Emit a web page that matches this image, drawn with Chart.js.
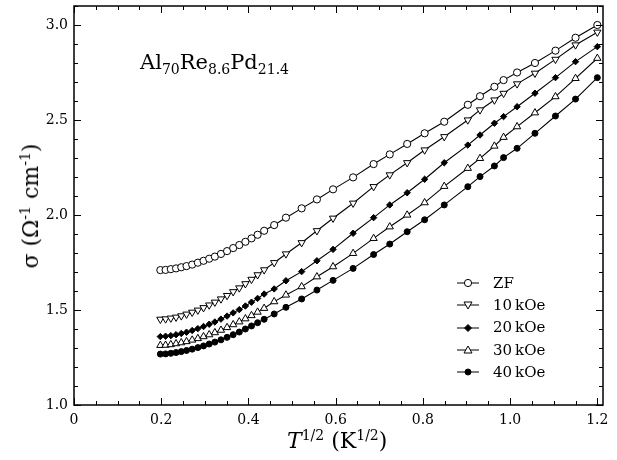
<!DOCTYPE html>
<html>
<head>
<meta charset="utf-8">
<script src="https://cdn.jsdelivr.net/npm/chart.js@4.4.0/dist/chart.umd.min.js"></script>
<style>
body { margin: 0; background: #fff; }
#wrap { position: relative; width: 617px; height: 460px; font-family: "DejaVu Serif", serif; color: #000; }
canvas { position: absolute; left: 0; top: 0; }
.txt { position: absolute; white-space: nowrap; line-height: 1; }
.sub { font-size: 14px; position: relative; top: 5px; }
.sup { font-size: 14px; position: relative; top: -8px; }
#alloy { left: 140px; top: 52px; font-size: 21px; }
#xtitle { left: 287px; top: 430px; font-size: 22px; }
#ytitle { left: 31px; top: 206px; font-size: 22px; transform: translate(-50%, -50%) rotate(-90deg); }
#legend { left: 457px; top: 272px; font-size: 15px; }
#legend div { height: 22.3px; display: flex; align-items: center; }
#legend svg { margin-right: 14px; }
</style>
</head>
<body>
<div id="wrap">
  <canvas id="chart" width="617" height="460"></canvas>
  <div class="txt" id="alloy">Al<span class="sub">70</span>Re<span class="sub">8.6</span>Pd<span class="sub">21.4</span></div>
  <div class="txt" id="xtitle"><i>T</i><span class="sup">1/2</span> (K<span class="sup">1/2</span>)</div>
  <div class="txt" id="ytitle">σ (Ω<span class="sup">-1</span> cm<span class="sup">-1</span>)</div>
  <div class="txt" id="legend"></div>
</div>
<script>
// T^1/2 (K^1/2)
const tHalf = [0.198, 0.210, 0.222, 0.234, 0.246, 0.258, 0.271, 0.284, 0.297, 0.310,
    0.323, 0.337, 0.351, 0.365, 0.379, 0.393, 0.407, 0.421, 0.436, 0.459,
    0.486, 0.522, 0.557, 0.594, 0.640, 0.687, 0.724, 0.764, 0.804, 0.849,
    0.903, 0.931, 0.964, 0.985, 1.016, 1.057, 1.104, 1.150, 1.200];

// conductivite (Ohm^-1 cm^-1)
const sigmaZF = [1.710, 1.711, 1.715, 1.719, 1.725, 1.731, 1.739, 1.749, 1.759, 1.770,
    1.781, 1.795, 1.810, 1.826, 1.842, 1.859, 1.877, 1.896, 1.917, 1.947,
    1.986, 2.035, 2.082, 2.135, 2.198, 2.268, 2.319, 2.374, 2.430, 2.491,
    2.580, 2.625, 2.675, 2.710, 2.750, 2.800, 2.865, 2.933, 3.000];
const sigma10 = [1.451, 1.453, 1.457, 1.462, 1.469, 1.478, 1.488, 1.499, 1.512, 1.526,
    1.541, 1.558, 1.576, 1.596, 1.616, 1.638, 1.661, 1.685, 1.711, 1.749,
    1.795, 1.854, 1.917, 1.983, 2.062, 2.149, 2.211, 2.275, 2.342, 2.412,
    2.500, 2.553, 2.605, 2.640, 2.690, 2.746, 2.819, 2.895, 2.962];
const sigma20 = [1.360, 1.362, 1.365, 1.370, 1.376, 1.383, 1.392, 1.402, 1.413, 1.425,
    1.437, 1.452, 1.468, 1.485, 1.502, 1.521, 1.541, 1.561, 1.584, 1.611,
    1.654, 1.702, 1.759, 1.819, 1.904, 1.986, 2.053, 2.117, 2.188, 2.275,
    2.368, 2.421, 2.483, 2.518, 2.570, 2.641, 2.723, 2.807, 2.886];
const sigma30 = [1.314, 1.315, 1.318, 1.323, 1.328, 1.334, 1.342, 1.350, 1.360, 1.370,
    1.381, 1.394, 1.408, 1.423, 1.438, 1.454, 1.471, 1.489, 1.509, 1.544,
    1.579, 1.623, 1.675, 1.728, 1.798, 1.877, 1.938, 2.000, 2.065, 2.151,
    2.246, 2.298, 2.363, 2.409, 2.465, 2.538, 2.623, 2.719, 2.825];
const sigma40 = [1.268, 1.269, 1.272, 1.276, 1.281, 1.287, 1.294, 1.302, 1.311, 1.321,
    1.331, 1.343, 1.356, 1.370, 1.384, 1.400, 1.416, 1.433, 1.451, 1.479,
    1.514, 1.558, 1.605, 1.656, 1.719, 1.792, 1.847, 1.912, 1.975, 2.053,
    2.149, 2.202, 2.258, 2.302, 2.351, 2.430, 2.521, 2.610, 2.723];

const seriesNames = ['ZF', '10\u2009kOe', '20\u2009kOe', '30\u2009kOe', '40\u2009kOe'];
const seriesValues = [sigmaZF, sigma10, sigma20, sigma30, sigma40];

const styles = [
    { pointStyle: 'circle', radius: 3.6, rotation: 0, fill: '#fff' },
    { pointStyle: 'triangle', radius: 4.2, rotation: 180, fill: '#fff' },
    { pointStyle: 'rectRot', radius: 3.2, rotation: 0, fill: '#000' },
    { pointStyle: 'triangle', radius: 4.2, rotation: 0, fill: '#fff' },
    { pointStyle: 'circle', radius: 3.0, rotation: 0, fill: '#000' }
];

function isMultiple(v, step) {
    const r = v / step;
    return Math.abs(r - Math.round(r)) < 1e-6;
}

// ticks vers l'interieur sur les 4 cotes + cadre
const frameTicks = {
    id: 'frameTicks',
    afterDraw(chart) {
        const { ctx, chartArea: a, scales: { x, y } } = chart;
        ctx.save();
        ctx.strokeStyle = '#000';
        ctx.lineWidth = 1;
        ctx.beginPath();
        x.ticks.forEach(t => {
            const px = Math.round(x.getPixelForValue(t.value)) + 0.5;
            const len = isMultiple(t.value, 0.2) ? 7 : 4;
            ctx.moveTo(px, a.bottom); ctx.lineTo(px, a.bottom - len);
            ctx.moveTo(px, a.top); ctx.lineTo(px, a.top + len);
        });
        y.ticks.forEach(t => {
            const py = Math.round(y.getPixelForValue(t.value)) + 0.5;
            const len = isMultiple(t.value, 0.5) ? 7 : 4;
            ctx.moveTo(a.left, py); ctx.lineTo(a.left + len, py);
            ctx.moveTo(a.right, py); ctx.lineTo(a.right - len, py);
        });
        ctx.stroke();
        ctx.lineWidth = 1.5;
        ctx.strokeRect(a.left, a.top, a.right - a.left, a.bottom - a.top);
        ctx.restore();
    }
};

const ctx = document.getElementById('chart').getContext('2d');
const chart = new Chart(ctx, {
    type: 'line',
    data: {
        datasets: seriesValues.map((vals, i) => ({
            label: seriesNames[i],
            data: tHalf.map((t, j) => ({ x: t, y: vals[j] })),
            borderColor: '#000',
            borderWidth: 1.1,
            tension: 0,
            pointStyle: styles[i].pointStyle,
            pointRadius: styles[i].radius,
            pointRotation: styles[i].rotation,
            pointBackgroundColor: styles[i].fill,
            pointBorderColor: '#000',
            pointBorderWidth: 1
        }))
    },
    options: {
        responsive: false,
        animation: false,
        devicePixelRatio: 1,
        layout: { autoPadding: false, padding: { left: 0, right: 14, top: 6, bottom: 0 } },
        plugins: { legend: { display: false }, tooltip: { enabled: false } },
        scales: {
            x: {
                type: 'linear',
                min: 0,
                max: 1.213,
                grid: { display: false, drawTicks: false },
                border: { display: false },
                afterFit: s => { s.height = 55; s.paddingLeft = 0; s.paddingRight = 0; },
                ticks: {
                    stepSize: 0.05,
                    includeBounds: false,
                    autoSkip: false,
                    maxRotation: 0,
                    padding: 7,
                    color: '#000',
                    font: { family: 'DejaVu Serif', size: 14 },
                    callback: v => isMultiple(v, 0.2) ? (v === 0 ? '0' : v.toFixed(1)) : ''
                }
            },
            y: {
                min: 1.0,
                max: 3.1,
                grid: { display: false, drawTicks: false },
                border: { display: false },
                afterFit: s => { s.width = 74; s.paddingTop = 0; s.paddingBottom = 0; },
                ticks: {
                    stepSize: 0.1,
                    autoSkip: false,
                    padding: 6,
                    color: '#000',
                    font: { family: 'DejaVu Serif', size: 14 },
                    callback: v => isMultiple(v, 0.5) ? v.toFixed(1) : ''
                }
            }
        }
    },
    plugins: [frameTicks]
});

// legende (ligne + symbole)
function markerSvg(i) {
    const s = styles[i];
    let shape;
    if (s.pointStyle === 'circle') {
        shape = `<circle cx="11" cy="6" r="${s.radius}" fill="${s.fill}" stroke="#000"/>`;
    } else if (s.pointStyle === 'rectRot') {
        shape = `<polygon points="11,2.5 14.5,6 11,9.5 7.5,6" fill="#000" stroke="#000"/>`;
    } else if (s.rotation === 180) {
        shape = `<polygon points="7,3 15,3 11,10" fill="#fff" stroke="#000"/>`;
    } else {
        shape = `<polygon points="7,9 15,9 11,2" fill="#fff" stroke="#000"/>`;
    }
    return `<svg width="22" height="12"><line x1="0" y1="6" x2="22" y2="6" stroke="#000" stroke-width="1"/>${shape}</svg>`;
}

document.getElementById('legend').innerHTML = seriesNames
    .map((name, i) => `<div>${markerSvg(i)}<span>${name}</span></div>`)
    .join('');
</script>
</body>
</html>
